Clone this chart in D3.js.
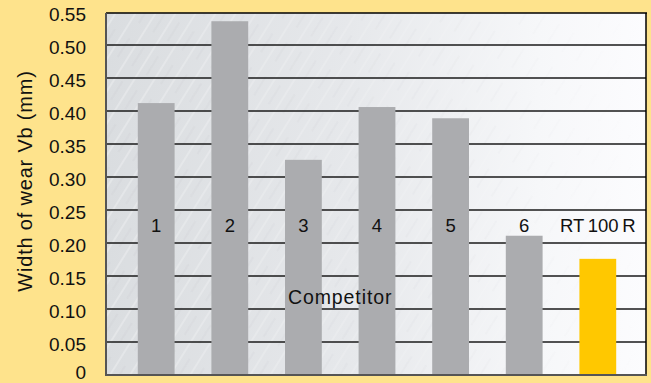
<!DOCTYPE html>
<html><head><meta charset="utf-8">
<script src="https://cdn.jsdelivr.net/npm/d3@7"></script>
<style>body{margin:0;background:#fee38c;}svg{display:block;}</style>
</head><body>
<svg id="c" width="651" height="383"></svg>
<script>
const categories = ["1","2","3","4","5","6","RT 100 R"];
const values = [0.412, 0.536, 0.326, 0.406, 0.389, 0.211, 0.176];
const barColors = ["#abacaf","#abacaf","#abacaf","#abacaf","#abacaf","#abacaf","#ffc800"];
const yTicks = [0,0.05,0.10,0.15,0.20,0.25,0.30,0.35,0.40,0.45,0.50,0.55];
const yTitle = "Width of wear Vb (mm)";
const groupLabel = "Competitor";

const FONT = "Liberation Sans, Arial, Helvetica, sans-serif";
const svg = d3.select("#c");
const L = 106, R = 646, T = 12, B = 375;
const y = d3.scaleLinear().domain([0,0.55]).range([B,T]);
const x = d3.scaleBand().domain(categories).range([119.4,634.6]).paddingInner(0.5).paddingOuter(0.25);

svg.append("rect").attr("width",651).attr("height",383).attr("fill","#fee38c");

const defs = svg.append("defs");
const g1 = defs.append("linearGradient").attr("id","bg").attr("x1","0").attr("x2","1").attr("y1","0").attr("y2","0");
g1.append("stop").attr("offset","0").attr("stop-color","#dadde0");
g1.append("stop").attr("offset","0.45").attr("stop-color","#e6e8eb");
g1.append("stop").attr("offset","0.8").attr("stop-color","#f6f7f9");
g1.append("stop").attr("offset","1").attr("stop-color","#fcfcfe");
const pat = defs.append("pattern").attr("id","streak").attr("patternUnits","userSpaceOnUse")
  .attr("width",17).attr("height",40).attr("patternTransform","rotate(32)");
pat.append("line").attr("x1",3).attr("x2",3).attr("y1",0).attr("y2",40).attr("stroke","#ffffff").attr("stroke-opacity",0.45).attr("stroke-width",1.2);
pat.append("line").attr("x1",11).attr("x2",11).attr("y1",4).attr("y2",26).attr("stroke","#c4c8cc").attr("stroke-opacity",0.35).attr("stroke-width",1);
const mk = defs.append("linearGradient").attr("id","mg").attr("x1","0").attr("x2","1");
mk.append("stop").attr("offset","0").attr("stop-color","#fff").attr("stop-opacity",1);
mk.append("stop").attr("offset","0.75").attr("stop-color","#fff").attr("stop-opacity",0.3);
mk.append("stop").attr("offset","1").attr("stop-color","#fff").attr("stop-opacity",0);
defs.append("mask").attr("id","m").append("rect").attr("x",L).attr("y",T).attr("width",R-L).attr("height",B-T).attr("fill","url(#mg)");

svg.append("rect").attr("x",L).attr("y",T+1).attr("width",R-L).attr("height",B-T-1).attr("fill","url(#bg)");
svg.append("rect").attr("x",L).attr("y",T+1).attr("width",R-L).attr("height",B-T-1).attr("fill","url(#streak)").attr("mask","url(#m)");

// gridlines
svg.append("g").selectAll("line").data(yTicks.filter(t=>t>0 && t<0.55)).join("line")
  .attr("x1",L).attr("x2",R).attr("y1",d=>y(d)).attr("y2",d=>y(d))
  .attr("stroke","#1a1a1a").attr("stroke-width",1.3);

// bars
svg.append("g").selectAll("rect").data(values).join("rect")
  .attr("x",(d,i)=>x(categories[i])).attr("width",x.bandwidth())
  .attr("y",d=>y(d)).attr("height",d=>B-y(d))
  .attr("fill",(d,i)=>barColors[i]);

// frame
svg.append("line").attr("x1",L).attr("x2",R+1).attr("y1",T+1).attr("y2",T+1).attr("stroke","#000").attr("stroke-width",1.5);
svg.append("line").attr("x1",R).attr("x2",R).attr("y1",T+1).attr("y2",B).attr("stroke","#000").attr("stroke-width",1.5);
svg.append("line").attr("x1",L).attr("x2",L).attr("y1",T+1).attr("y2",B+1).attr("stroke","#555").attr("stroke-width",2);
svg.append("line").attr("x1",L-1).attr("x2",R+1).attr("y1",B).attr("y2",B).attr("stroke","#555").attr("stroke-width",2);

// axis
const axis = d3.axisLeft(y).tickValues(yTicks).tickSize(0).tickPadding(0)
  .tickFormat(d=> d===0 ? "0" : d3.format(".2f")(d));
const ag = svg.append("g").attr("transform",`translate(86,1.5)`).call(axis);
ag.select(".domain").remove();
ag.selectAll("text").attr("font-family",FONT).attr("font-size",19).attr("fill","#111").attr("dy","0.36em");
ag.selectAll(".tick").filter(d=>d===0).select("text").attr("dy","0.12em");

svg.append("text").attr("transform",`translate(32,181) rotate(-90)`)
  .attr("text-anchor","middle").attr("font-family",FONT)
  .attr("font-size",20).attr("letter-spacing","0.8px").attr("fill","#111").text(yTitle);

// category labels
svg.append("g").selectAll("text").data(categories).join("text")
  .attr("x",d=>x(d)+x.bandwidth()/2).attr("y",232)
  .attr("text-anchor","middle").attr("font-family",FONT)
  .attr("font-size",18.5).attr("fill","#111").attr("word-spacing",d=>d.length>2?"-1.5px":"0")
  .text(d=>d);

svg.append("text").attr("x",(x("3")+x("4")+x.bandwidth())/2).attr("y",304)
  .attr("text-anchor","middle").attr("font-family",FONT)
  .attr("font-size",19.5).attr("letter-spacing","0.9px").attr("fill","#111").text(groupLabel);
</script>
</body></html>
